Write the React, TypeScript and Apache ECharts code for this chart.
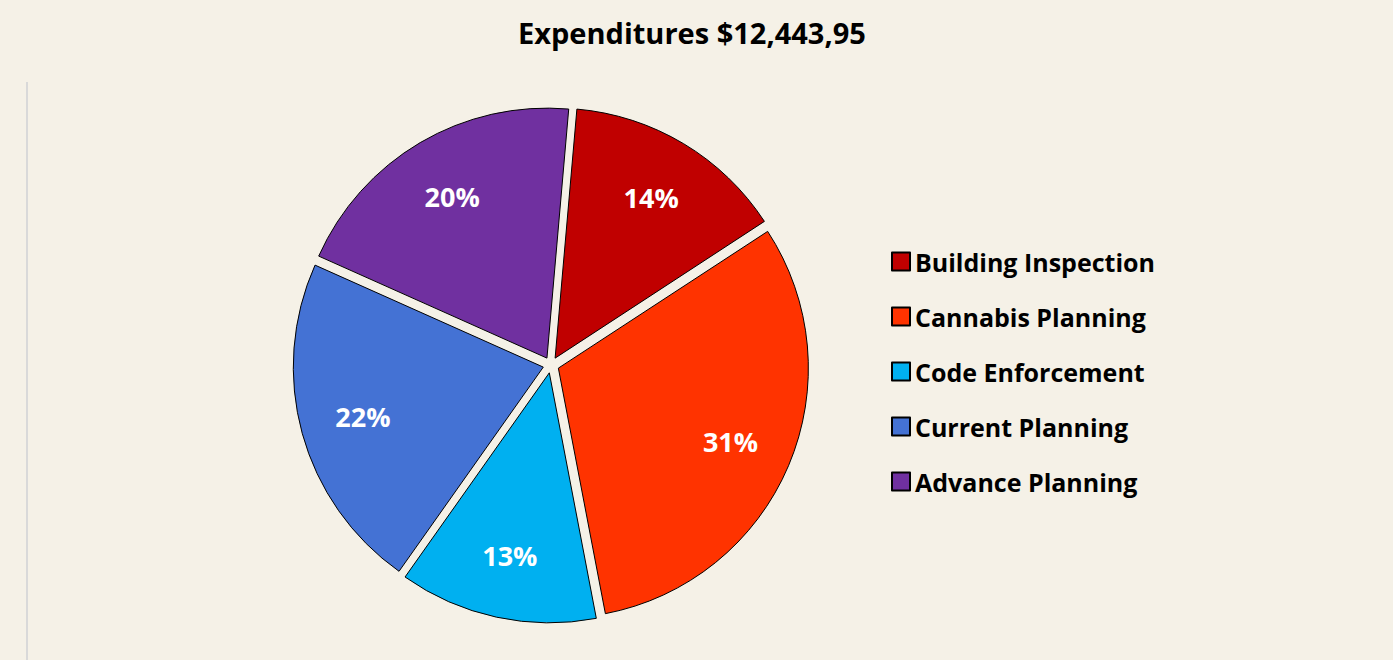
import React, { useEffect, useRef } from "react";
import * as echarts from "echarts";

const titleText = "Expenditures $12,443,957";
const categories = [
  "Building Inspection",
  "Cannabis Planning",
  "Code Enforcement",
  "Current Planning",
  "Advance Planning",
];
const shares = [14.4, 31.2, 12.8, 21.9, 19.7];
const colors = ["#C00000", "#FF3300", "#00B0F0", "#4472D4", "#7030A0"];

const FONT = "'Open Sans', Lato, sans-serif";

export default function App() {
  const ref = useRef<HTMLDivElement>(null);
  useEffect(() => {
    document.body.style.margin = "0";
    const chart = echarts.init(ref.current!, undefined, { renderer: "svg" });
    const data = categories.map((name, i) => ({
      name,
      value: shares[i],
      selected: true,
      itemStyle: { color: colors[i] },
    }));
    chart.setOption({
      animation: false,
      backgroundColor: "#F5F1E7",
      title: {
        text: titleText,
        left: 513,
        top: 13,
        textStyle: {
          fontFamily: FONT,
          fontWeight: "bold",
          fontSize: 29,
          color: "#000",
          width: 352,
          overflow: "truncate",
          ellipsis: "",
        },
      },
      legend: {
        orient: "vertical",
        left: 886,
        top: 244,
        itemWidth: 18,
        itemHeight: 18,
        itemGap: 30,
        icon: "rect",
        selectedMode: false,
        data: categories,
        textStyle: {
          fontFamily: FONT,
          fontWeight: "bold",
          fontSize: 25,
          color: "#000",
          padding: [0, 0, 0, 0],
          lineHeight: 24,
        },
      },
      graphic: [
        {
          type: "line",
          shape: { x1: 27, y1: 82, x2: 27, y2: 660 },
          style: { stroke: "#D9D9D9", lineWidth: 2 },
          silent: true,
        },
      ],
      series: [
        {
          type: "pie",
          center: [551, 365],
          radius: [0, 250],
          startAngle: 85,
          clockwise: true,
          selectedMode: "multiple",
          selectedOffset: 8,
          label: { show: false },
          labelLine: { show: false },
          emphasis: { disabled: true },
          itemStyle: { borderColor: "#000", borderWidth: 1 },
          data,
        },
        {
          type: "pie",
          center: [551, 365],
          radius: [118, 250],
          startAngle: 85,
          clockwise: true,
          selectedMode: "multiple",
          selectedOffset: 8,
          silent: true,
          emphasis: { disabled: true },
          itemStyle: { color: "rgba(0,0,0,0)", borderWidth: 0 },
          labelLine: { show: false },
          label: {
            show: true,
            position: "inside",
            color: "#fff",
            fontFamily: FONT,
            fontWeight: "bold",
            fontSize: 27,
            formatter: (p: any) => Math.round(p.value) + "%",
          },
          data: categories.map((name, i) => ({
            name,
            value: shares[i],
            selected: true,
          })),
        },
      ],
    });
    return () => chart.dispose();
  }, []);
  return (
    <div
      ref={ref}
      style={{ position: "fixed", left: 0, top: 0, width: 1393, height: 660 }}
    />
  );
}
